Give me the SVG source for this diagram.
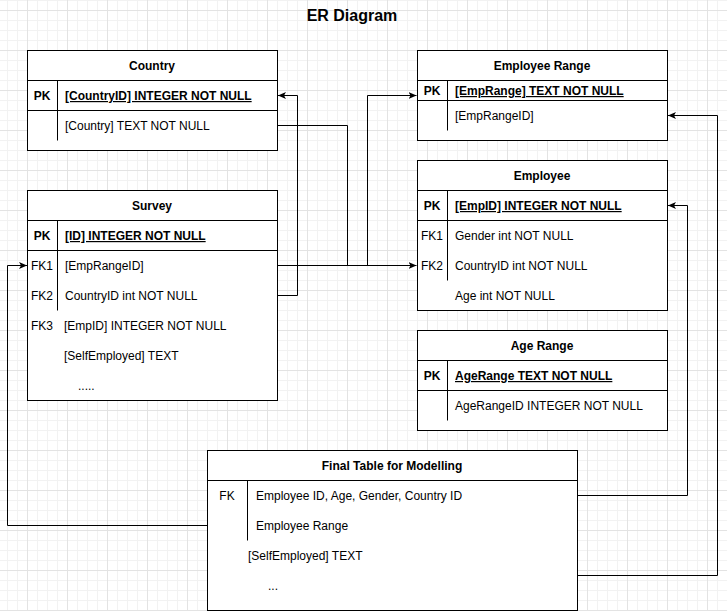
<svg xmlns="http://www.w3.org/2000/svg" width="727" height="611" viewBox="0 0 727 611">
<defs>
<pattern id="grid" x="27" y="10" width="40" height="40" patternUnits="userSpaceOnUse">
<rect width="40" height="40" fill="#ffffff"/>
<g fill="#f2f2f2">
<rect x="10" y="0" width="1" height="40"/><rect x="20" y="0" width="1" height="40"/><rect x="30" y="0" width="1" height="40"/>
<rect x="0" y="10" width="40" height="1"/><rect x="0" y="20" width="40" height="1"/><rect x="0" y="30" width="40" height="1"/>
</g>
<g fill="#e3e3e3">
<rect x="0" y="0" width="1" height="40"/><rect x="0" y="0" width="40" height="1"/>
</g>
</pattern>
<marker id="arr" viewBox="0 0 8 8" refX="8" refY="4" markerWidth="8" markerHeight="8" markerUnits="userSpaceOnUse" orient="auto">
<path d="M0,0.5 L8,4 L0,7.5 L2,4 Z" fill="#000"/>
</marker>
<style>
.box{fill:#fff;stroke:#000;stroke-width:1}
.ln{stroke:#000;stroke-width:1;fill:none}
.hd{font-family:"Liberation Sans",Arial,sans-serif;font-size:12px;font-weight:bold;text-anchor:middle;fill:#000}
.k{font-family:"Liberation Sans",Arial,sans-serif;font-size:12px;text-anchor:middle;fill:#000}
.kb{font-family:"Liberation Sans",Arial,sans-serif;font-size:12px;font-weight:bold;text-anchor:middle;fill:#000}
.t{font-family:"Liberation Sans",Arial,sans-serif;font-size:12px;fill:#000}
.tb{font-family:"Liberation Sans",Arial,sans-serif;font-size:12px;font-weight:bold;text-decoration:underline;fill:#000}
.con{stroke:#000;stroke-width:1;fill:none;marker-end:url(#arr)}
</style>
</defs>
<rect width="727" height="611" fill="url(#grid)"/>
<text x="352" y="21" font-family="'Liberation Sans',Arial,sans-serif" font-size="16" font-weight="bold" text-anchor="middle" fill="#000">ER Diagram</text>

<g id="connectors">
<path class="con" d="M277.5,125.5 H347.5 V265.5 H416.5"/>
<path class="con" d="M277.5,265.5 H367.5 V95.5 H416.5"/>
<path class="con" d="M277.5,295.5 H297.5 V95.5 H278"/>
<path class="con" d="M577.5,495.5 H687.5 V205.5 H668"/>
<path class="con" d="M577.5,575.5 H717.5 V115.5 H668"/>
<path class="con" d="M207.5,525.5 H7.5 V265.5 H27"/>
</g>

<g id="country">
<rect class="box" x="27.5" y="50.5" width="250" height="100"/>
<path class="ln" d="M27.5,80.5 H277.5 M27.5,110.5 H277.5 M57.5,80.5 V140.5"/>
<text class="hd" x="152" y="70">Country</text>
<text class="kb" x="42" y="100">PK</text>
<text class="tb" x="65" y="100">[CountryID] INTEGER NOT NULL</text>
<text class="t" x="65" y="130">[Country] TEXT NOT NULL</text>
</g>

<g id="employee-range">
<rect class="box" x="417.5" y="50.5" width="250" height="90"/>
<path class="ln" d="M417.5,80.5 H667.5 M417.5,100.5 H667.5 M447.5,80.5 V130.5"/>
<text class="hd" x="542" y="70">Employee Range</text>
<text class="kb" x="432" y="95">PK</text>
<text class="tb" x="455" y="95">[EmpRange] TEXT NOT NULL</text>
<text class="t" x="455" y="120">[EmpRangeID]</text>
</g>

<g id="employee">
<rect class="box" x="417.5" y="160.5" width="250" height="150"/>
<path class="ln" d="M417.5,190.5 H667.5 M417.5,220.5 H667.5 M447.5,190.5 V280.5"/>
<text class="hd" x="542" y="180">Employee</text>
<text class="kb" x="432" y="210">PK</text>
<text class="tb" x="455" y="210">[EmpID] INTEGER NOT NULL</text>
<text class="k" x="432" y="240">FK1</text>
<text class="t" x="455" y="240">Gender int NOT NULL</text>
<text class="k" x="432" y="270">FK2</text>
<text class="t" x="455" y="270">CountryID int NOT NULL</text>
<text class="t" x="455" y="300">Age int NOT NULL</text>
</g>

<g id="age-range">
<rect class="box" x="417.5" y="330.5" width="250" height="100"/>
<path class="ln" d="M417.5,360.5 H667.5 M417.5,390.5 H667.5 M447.5,360.5 V420.5"/>
<text class="hd" x="542" y="350">Age Range</text>
<text class="kb" x="432" y="380">PK</text>
<text class="tb" x="455" y="380">AgeRange TEXT NOT NULL</text>
<text class="t" x="455" y="410">AgeRangeID INTEGER NOT NULL</text>
</g>

<g id="survey">
<rect class="box" x="27.5" y="190.5" width="250" height="210"/>
<path class="ln" d="M27.5,220.5 H277.5 M27.5,250.5 H277.5 M57.5,220.5 V310.5"/>
<text class="hd" x="152" y="210">Survey</text>
<text class="kb" x="42" y="240">PK</text>
<text class="tb" x="65" y="240">[ID] INTEGER NOT NULL</text>
<text class="k" x="42" y="270">FK1</text>
<text class="t" x="65" y="270">[EmpRangeID]</text>
<text class="k" x="42" y="300">FK2</text>
<text class="t" x="65" y="300">CountryID int NOT NULL</text>
<text class="k" x="42" y="330">FK3</text>
<text class="t" x="64" y="330">[EmpID] INTEGER NOT NULL</text>
<text class="t" x="64" y="360">[SelfEmployed] TEXT</text>
<text class="t" x="78" y="390">.....</text>
</g>

<g id="final-table">
<rect class="box" x="207.5" y="450.5" width="370" height="160"/>
<path class="ln" d="M207.5,480.5 H577.5 M247.5,480.5 V540.5"/>
<text class="hd" x="392" y="470">Final Table for Modelling</text>
<text class="k" x="227" y="500">FK</text>
<text class="t" x="256" y="500">Employee ID, Age, Gender, Country ID</text>
<text class="t" x="256" y="530">Employee Range</text>
<text class="t" x="248" y="560">[SelfEmployed] TEXT</text>
<text class="t" x="268" y="590">...</text>
</g>
</svg>
